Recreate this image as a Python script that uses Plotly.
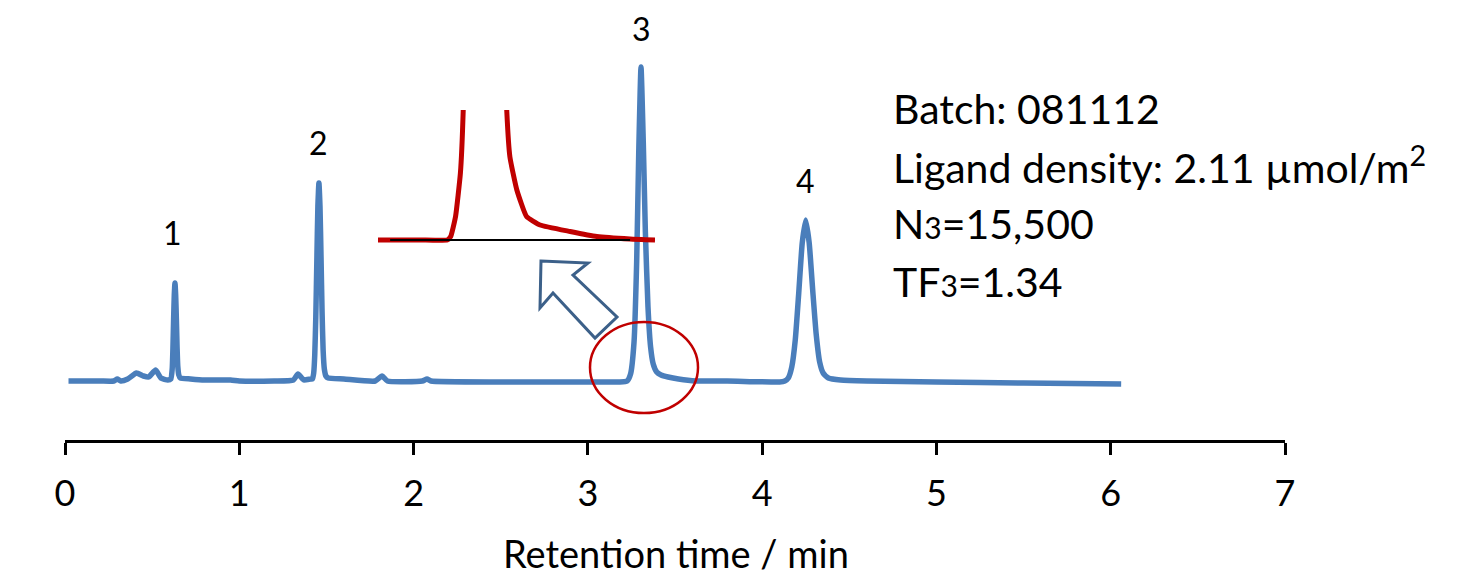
import plotly.graph_objects as go

# ---------------- data ----------------
time_min = [0.02, 0.20, 0.28, 0.30, 0.32, 0.36, 0.41, 0.45, 0.48, 0.52, 0.55, 0.59,
            0.607, 0.615, 0.619, 0.623, 0.627, 0.631, 0.635, 0.639, 0.643, 0.647, 0.653, 0.662,
            0.72, 0.80, 0.95, 1.00, 1.20, 1.31, 1.337, 1.37, 1.41,
            1.42, 1.427, 1.433, 1.439, 1.445, 1.451, 1.457, 1.463, 1.469, 1.475, 1.481, 1.488, 1.497, 1.51,
            1.60, 1.78, 1.819, 1.85, 2.05, 2.077, 2.10, 2.5, 3.0, 3.18,
            3.225, 3.245, 3.265, 3.28, 3.292, 3.305, 3.318, 3.33, 3.345, 3.36, 3.375, 3.395, 3.42, 3.46, 3.52, 3.62,
            3.8, 4.10,
            4.13, 4.15, 4.17, 4.19, 4.21, 4.23, 4.25, 4.27, 4.29, 4.31, 4.33, 4.35, 4.38, 4.45,
            4.6, 5.0, 5.5, 6.06]
signal = [1, 1, 1, 3, 1, 3, 9, 6, 5, 12, 4, 2,
          3, 13, 32, 61, 87, 99, 87, 63, 35, 16, 7, 4,
          3, 2, 2, 1, 1, 2, 8, 2, 3,
          3, 9, 27, 65, 121, 176, 199, 176, 125, 70, 32, 13, 6, 4,
          3, 1, 6, 1, 1, 3, 1, 0, 0, 0,
          1, 8, 40, 120, 230, 315, 240, 150, 75, 35, 18, 10, 7, 5, 3, 1,
          1, 0,
          1, 4, 15, 42, 89, 139, 162, 139, 92, 48, 20, 9, 4, 2,
          1, 0, -1, -2]

# inset: enlarged view of the foot of peak 3
inset_time = [3.00, 3.121, 3.200, 3.210, 3.224, 3.238, 3.246, 3.26, 3.305,
              3.35, 3.372, 3.381, 3.401, 3.429, 3.468, 3.555, 3.632, 3.728, 3.80]
inset_signal = [0, 0, 0, 0.7, 4.7, 13.4, 25.7, 80, 300,
                80, 25.7, 16.6, 10, 4.7, 3, 1.7, 0.7, 0.2, 0]
inset_base_time = [3.035, 3.728]
inset_base_signal = [0, 0]

peak_labels = ["1", "2", "3", "4"]
peak_label_time = [0.614, 1.452, 3.305, 4.251]
peak_label_signal = [150, 240, 354, 202]

x_ticks = [0, 1, 2, 3, 4, 5, 6, 7]

info_lines = ["Batch: 081112",
              "Ligand density: 2.11 µmol/m<sup>2</sup>",
              "N<span style='font-size:30px'>3</span>=15,500",
              "TF<span style='font-size:30px'>3</span>=1.34"]

# ---------------- figure ----------------
W, H = 1476, 580
L, R, T, B = 65, 191, 0, 140
PW, PH = W - L - R, H - T - B
FONT = "Lato"
BLUE = "#4A7EBB"
RED = "#C00000"


def px_x(px):
    return (px - L) / PW


def px_y(py):
    return (T + PH - py) / PH


def dx(px):  # pixel -> data (minutes)
    return (px - L) / PW * 7


def dy(py):  # pixel -> data (signal)
    return 382 - py


fig = go.Figure()
fig.add_trace(go.Scatter(x=time_min, y=signal, mode="lines",
                         line=dict(color=BLUE, width=5.5, shape="spline", smoothing=0.5),
                         hoverinfo="skip", showlegend=False))
fig.add_trace(go.Scatter(x=inset_time, y=inset_signal, mode="lines",
                         line=dict(color=RED, width=5, shape="spline", smoothing=0.4),
                         xaxis="x2", yaxis="y2", hoverinfo="skip", showlegend=False))
fig.add_trace(go.Scatter(x=inset_base_time, y=inset_base_signal, mode="lines",
                         line=dict(color="black", width=2),
                         xaxis="x2", yaxis="y2", hoverinfo="skip", showlegend=False))

annotations = []
for lab, t, s in zip(peak_labels, peak_label_time, peak_label_signal):
    annotations.append(dict(x=t, y=s, xref="x", yref="y", text=lab, showarrow=False,
                            font=dict(family=FONT, size=32, color="black")))

info_y = [108, 165, 223, 281]
for txt, py in zip(info_lines, info_y):
    annotations.append(dict(x=px_x(891), y=px_y(py), xref="paper", yref="paper", text=txt,
                            showarrow=False, xanchor="left", yanchor="middle",
                            font=dict(family=FONT, size=41, color="black")))

annotations.append(dict(x=px_x(676), y=px_y(553), xref="paper", yref="paper",
                        text="Retention time / min", showarrow=False,
                        xanchor="center", yanchor="middle",
                        font=dict(family=FONT, size=38, color="black")))

# hollow block arrow (pixel outline converted to data units)
arrow_px = [(541, 261), (588, 263), (573, 275), (617, 317), (595, 338), (553, 293), (540, 308)]
path = "M " + " L ".join(f"{dx(a):.4f},{dy(b):.2f}" for a, b in arrow_px) + " Z"

shapes = [
    dict(type="path", path=path, xref="x", yref="y",
         line=dict(color="#3C6089", width=3), fillcolor="white"),
    dict(type="circle", xref="x", yref="y", x0=dx(590), x1=dx(698), y0=dy(413), y1=dy(322),
         line=dict(color=RED, width=2.5)),
]

fig.update_layout(
    width=W, height=H,
    margin=dict(l=L, r=R, t=T, b=B),
    paper_bgcolor="white", plot_bgcolor="rgba(0,0,0,0)",
    font=dict(family=FONT, color="black"),
    xaxis=dict(range=[0, 7], tickvals=x_ticks, ticks="outside", ticklen=12, tickwidth=3,
               tickcolor="black", showline=True, linewidth=3, linecolor="black",
               showgrid=False, zeroline=False, tickfont=dict(family=FONT, size=36),
               ticklabelstandoff=8, fixedrange=True),
    yaxis=dict(range=[-58, 382], visible=False, showgrid=False, zeroline=False, fixedrange=True),
    xaxis2=dict(domain=[px_x(378), px_x(655)], range=[3.0, 3.8], anchor="y2", visible=False,
                showgrid=False, zeroline=False),
    yaxis2=dict(domain=[px_y(245), px_y(110)], range=[-1, 26], anchor="x2", visible=False,
                showgrid=False, zeroline=False),
    annotations=annotations,
    shapes=shapes,
    showlegend=False,
)

fig.write_html("out.html")
